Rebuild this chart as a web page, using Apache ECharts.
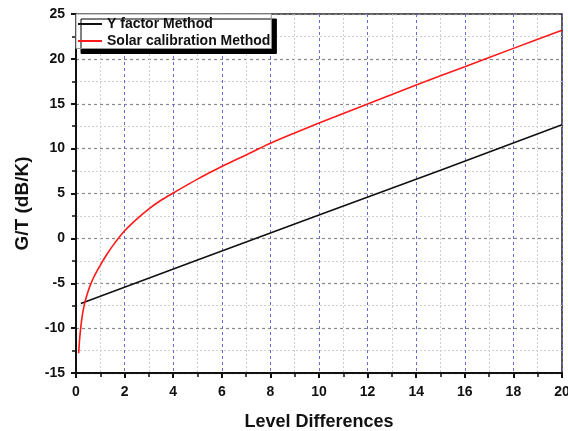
<!DOCTYPE html>
<html>
<head>
<meta charset="UTF-8">
<style>
  html, body { margin: 0; padding: 0; background: #fff; }
  #chart { width: 568px; height: 431px; }
</style>
</head>
<body>
<div id="chart"></div>
<script src="https://cdn.jsdelivr.net/npm/echarts@6/dist/echarts.min.js"></script>
<script>
// data
const seriesNames = ['Y factor Method', 'Solar calibration Method'];
const yFactorX = [0.2, 5, 10, 15, 20];
const yFactorY = [-7.25, -2.4, 2.6, 7.6, 12.65];
const solarX = [0.11, 0.15, 0.2, 0.27, 0.35, 0.45, 0.57, 0.7, 0.85, 1.05, 1.3, 1.6, 2, 2.5, 3, 3.5, 4, 5, 6, 7, 8, 9, 10, 12, 14, 16, 18, 20];
const solarY = [-12.8, -11.2, -9.8, -8.4, -7.3, -6.3, -5.35, -4.5, -3.7, -2.75, -1.65, -0.5, 0.85, 2.15, 3.3, 4.25, 5.05, 6.6, 8.0, 9.3, 10.6, 11.75, 12.85, 14.97, 17.1, 19.13, 21.17, 23.2];

const chart = echarts.init(document.getElementById('chart'));
const font = 'Liberation Sans, Arial, sans-serif';

const option = {
  animation: false,
  grid: {
    left: 76, right: 6, top: 14, bottom: 58,
    outerBoundsMode: 'none', containLabel: false,
    show: true, borderColor: '#222', borderWidth: 1.5, backgroundColor: 'transparent'
  },
  legend: {
    data: seriesNames,
    orient: 'vertical',
    left: 76, top: 14,
    icon: 'rect',
    itemWidth: 24, itemHeight: 2, itemGap: 2,
    padding: [2.5, 1, 0, 2],
    backgroundColor: '#fff',
    borderColor: '#999', borderWidth: 1, borderRadius: 0,
    shadowColor: '#000', shadowOffsetX: 5, shadowOffsetY: 5, shadowBlur: 0,
    textStyle: { fontFamily: font, fontWeight: 'bold', fontSize: 14, lineHeight: 15, color: '#111' }
  },
  xAxis: {
    type: 'value', min: 0, max: 20, interval: 2,
    name: 'Level Differences', nameLocation: 'middle', nameGap: 40,
    nameTextStyle: { fontFamily: font, fontWeight: 'bold', fontSize: 18, color: '#111' },
    axisLine: { show: true, onZero: false, lineStyle: { color: '#111', width: 2 } },
    axisTick: { show: true, inside: false, length: 5, lineStyle: { color: '#111', width: 2 } },
    minorTick: { show: true, splitNumber: 2, length: 4, lineStyle: { color: '#111', width: 1.5 } },
    axisLabel: { fontFamily: font, fontWeight: 'bold', fontSize: 14, color: '#111', margin: 12 },
    splitLine: { show: true, lineStyle: { color: '#6b6bcc', type: [3, 3], width: 1 } },
    minorSplitLine: { show: true, lineStyle: { color: '#cfcfcf', type: [2, 2], width: 1 } }
  },
  yAxis: {
    type: 'value', min: -15, max: 25, interval: 5,
    name: 'G/T (dB/K)', nameLocation: 'middle', nameGap: 44,
    nameTextStyle: { fontFamily: font, fontWeight: 'bold', fontSize: 19, color: '#111', padding: [0, 20, 0, 0] },
    axisLine: { show: true, onZero: false, lineStyle: { color: '#111', width: 2 } },
    axisTick: { show: true, inside: false, length: 5, lineStyle: { color: '#111', width: 2 } },
    minorTick: { show: true, splitNumber: 2, length: 4, lineStyle: { color: '#111', width: 1.5 } },
    axisLabel: { fontFamily: font, fontWeight: 'bold', fontSize: 14, color: '#111', margin: 11 },
    splitLine: { show: true, lineStyle: { color: '#888', type: [3, 3], width: 1.2 } },
    minorSplitLine: { show: true, lineStyle: { color: '#cfcfcf', type: [2, 2], width: 1 } }
  },
  series: [
    {
      name: seriesNames[0], type: 'line', symbol: 'none',
      data: yFactorX.map((x, i) => [x, yFactorY[i]]),
      lineStyle: { color: '#111', width: 1.6 }, itemStyle: { color: '#111' }
    },
    {
      name: seriesNames[1], type: 'line', symbol: 'none', smooth: 0.3,
      data: solarX.map((x, i) => [x, solarY[i]]),
      lineStyle: { color: '#ff1a1a', width: 1.6 }, itemStyle: { color: '#ff1a1a' }
    }
  ]
};
chart.setOption(option);
</script>
</body>
</html>
